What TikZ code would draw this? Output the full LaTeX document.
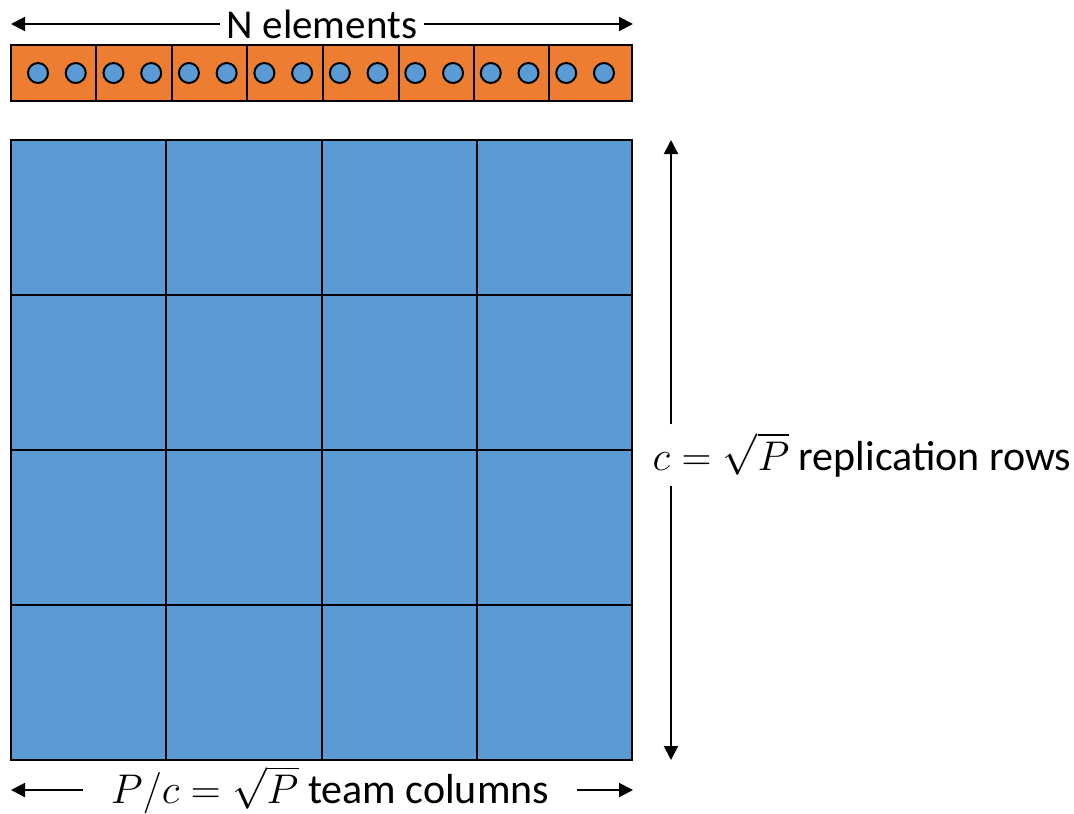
\documentclass[tikz,border=0pt]{standalone}
\usepackage{fontspec}
\setmainfont{Carlito}
\usetikzlibrary{arrows.meta}
\definecolor{cellblue}{HTML}{5B9BD5}
\definecolor{barorange}{HTML}{ED7D31}
\tikzset{
  bar cell/.style={fill=barorange,draw,line width=1pt},
  grid cell/.style={fill=cellblue,draw,line width=1pt},
  elem node/.style={circle,fill=cellblue,draw,line width=1pt,minimum size=10pt,inner sep=0pt},
  dim arrow/.style={-{Triangle[length=7pt,width=7pt]},line width=1pt},
  top label/.style={inner xsep=3.5pt,inner ysep=0pt,font=\fontsize{20.5}{23}\selectfont},
  side label/.style={inner xsep=14pt,inner ysep=0pt,font=\fontsize{21}{25}\selectfont}
}

\begin{document}
\begin{tikzpicture}[x=0.5pt,y=-0.5pt]
    \useasboundingbox (0,0) rectangle (1074,813);

    % element bar
    \foreach \a/\b in {11/96,96/172,172/247,247/323,323/399,399/474,474/549,549/632}
        \draw[bar cell] (\a,45) rectangle (\b,101);
    \foreach \k in {0,...,15}
        \node[elem node] (e\k) at ({38+37.73*\k},73) {};

    % process grid
    \foreach \i in {0,...,3}
        \foreach \j in {0,...,3}
            \draw[grid cell] ({11+155.25*\i},{140+155*\j}) rectangle ++(155.25,155);

    % dimension labels
    \node[top label] (nlabel) at (322,24) {N elements};
    \coordinate (nl) at (11,24);
    \coordinate (nr) at (633,24);
    \draw[dim arrow] (nlabel.west) -- (nl);
    \draw[dim arrow] (nlabel.east) -- (nr);

    \node[side label,inner xsep=0pt,inner ysep=4pt] (rlabel) at (862,455) {$c=\sqrt{P}$ replication rows};
    \coordinate (rt) at (671,140);
    \coordinate (rb) at (671,760);
    \draw[dim arrow] (rt |- rlabel.north) -- (rt);
    \draw[dim arrow] (rb |- rlabel.south) -- (rb);

    \node[side label] (blabel) at (330,790) {$P/c=\sqrt{P}$ team columns};
    \coordinate (bl) at (11,790);
    \coordinate (br) at (633,790);
    \draw[dim arrow] (blabel.west) -- (bl);
    \draw[dim arrow] (blabel.east) -- (br);
\end{tikzpicture}
\end{document}
